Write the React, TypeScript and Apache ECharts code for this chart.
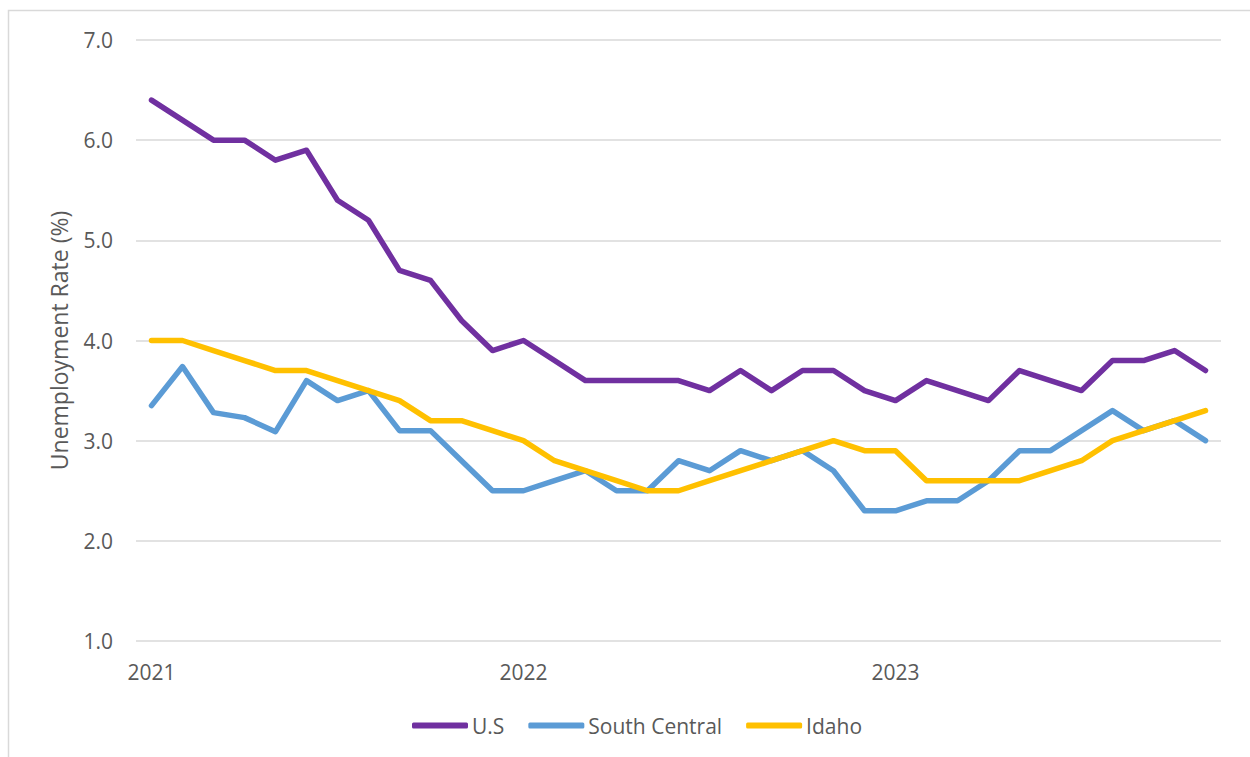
import React, { useEffect, useRef } from "react";
import * as echarts from "echarts";

const months: string[] = [
  "2021-01", "2021-02", "2021-03", "2021-04", "2021-05", "2021-06",
  "2021-07", "2021-08", "2021-09", "2021-10", "2021-11", "2021-12",
  "2022-01", "2022-02", "2022-03", "2022-04", "2022-05", "2022-06",
  "2022-07", "2022-08", "2022-09", "2022-10", "2022-11", "2022-12",
  "2023-01", "2023-02", "2023-03", "2023-04", "2023-05", "2023-06",
  "2023-07", "2023-08", "2023-09", "2023-10", "2023-11",
];

const usRate: number[] = [
  6.4, 6.2, 6.0, 6.0, 5.8, 5.9, 5.4, 5.2, 4.7, 4.6, 4.2, 3.9,
  4.0, 3.8, 3.6, 3.6, 3.6, 3.6, 3.5, 3.7, 3.5, 3.7, 3.7, 3.5,
  3.4, 3.6, 3.5, 3.4, 3.7, 3.6, 3.5, 3.8, 3.8, 3.9, 3.7,
];

const southCentralRate: number[] = [
  3.35, 3.74, 3.28, 3.23, 3.09, 3.6, 3.4, 3.5, 3.1, 3.1, 2.8, 2.5,
  2.5, 2.6, 2.7, 2.5, 2.5, 2.8, 2.7, 2.9, 2.8, 2.9, 2.7, 2.3,
  2.3, 2.4, 2.4, 2.6, 2.9, 2.9, 3.1, 3.3, 3.1, 3.2, 3.0,
];

const idahoRate: number[] = [
  4.0, 4.0, 3.9, 3.8, 3.7, 3.7, 3.6, 3.5, 3.4, 3.2, 3.2, 3.1,
  3.0, 2.8, 2.7, 2.6, 2.5, 2.5, 2.6, 2.7, 2.8, 2.9, 3.0, 2.9,
  2.9, 2.6, 2.6, 2.6, 2.6, 2.7, 2.8, 3.0, 3.1, 3.2, 3.3,
];

const seriesNames: string[] = ["U.S", "South Central", "Idaho"];
const seriesColors: string[] = ["#7030A0", "#5B9BD5", "#FFC000"];
const yAxisTitle = "Unemployment Rate (%)";

const FONT = "'Open Sans', 'Liberation Sans', sans-serif";
const TEXT_COLOR = "#595959";

export default function App() {
  const ref = useRef<HTMLDivElement>(null);

  useEffect(() => {
    if (!ref.current) return;
    const chart = echarts.init(ref.current, undefined, { renderer: "svg" });
    const values = [usRate, southCentralRate, idahoRate];
    chart.setOption({
      animation: false,
      backgroundColor: "#ffffff",
      textStyle: { fontFamily: FONT },
      grid: { left: 136, right: 29, top: 40, bottom: 116, containLabel: false },
      legend: {
        data: seriesNames.map((name) => ({ name, icon: "roundRect" })),
        left: 412,
        top: 715,
        padding: 0,
        itemWidth: 56,
        itemHeight: 6,
        itemGap: 24,
        textStyle: { fontFamily: FONT, fontSize: 21, color: TEXT_COLOR, padding: [0, 0, 0, -1] },
      },
      xAxis: {
        type: "category",
        data: months,
        boundaryGap: true,
        axisLine: { show: false },
        axisTick: { show: false },
        axisLabel: {
          interval: (index: number, value: string) => value.endsWith("-01"),
          formatter: (value: string) => (value.endsWith("-01") ? value.slice(0, 4) : ""),
          margin: 20,
          fontFamily: FONT,
          fontSize: 21,
          color: TEXT_COLOR,
        },
        splitLine: { show: false },
      },
      yAxis: {
        type: "value",
        min: 1,
        max: 7,
        interval: 1,
        name: yAxisTitle,
        nameLocation: "middle",
        nameGap: 66,
        nameTextStyle: { fontFamily: FONT, fontSize: 23, color: TEXT_COLOR },
        axisLine: { show: false },
        axisTick: { show: false },
        axisLabel: {
          formatter: (v: number) => v.toFixed(1),
          margin: 23,
          fontFamily: FONT,
          fontSize: 21,
          color: TEXT_COLOR,
        },
        splitLine: { lineStyle: { color: "#d9d9d9", width: 1.5 } },
      },
      graphic: [
        {
          type: "rect",
          shape: { x: 8.5, y: 10.5, width: 1400, height: 900 },
          style: { fill: "none", stroke: "#d9d9d9", lineWidth: 1.5 },
          silent: true,
        },
      ],
      series: seriesNames.map((name, i) => ({
        name,
        type: "line",
        data: values[i],
        symbol: "none",
        smooth: false,
        color: seriesColors[i],
        lineStyle: { color: seriesColors[i], width: 5.5, cap: "round", join: "round" },
        itemStyle: { color: seriesColors[i] },
      })),
    });
    return () => chart.dispose();
  }, []);

  return (
    <div
      ref={ref}
      style={{ position: "fixed", left: 0, top: 0, width: 1250, height: 757 }}
    />
  );
}
